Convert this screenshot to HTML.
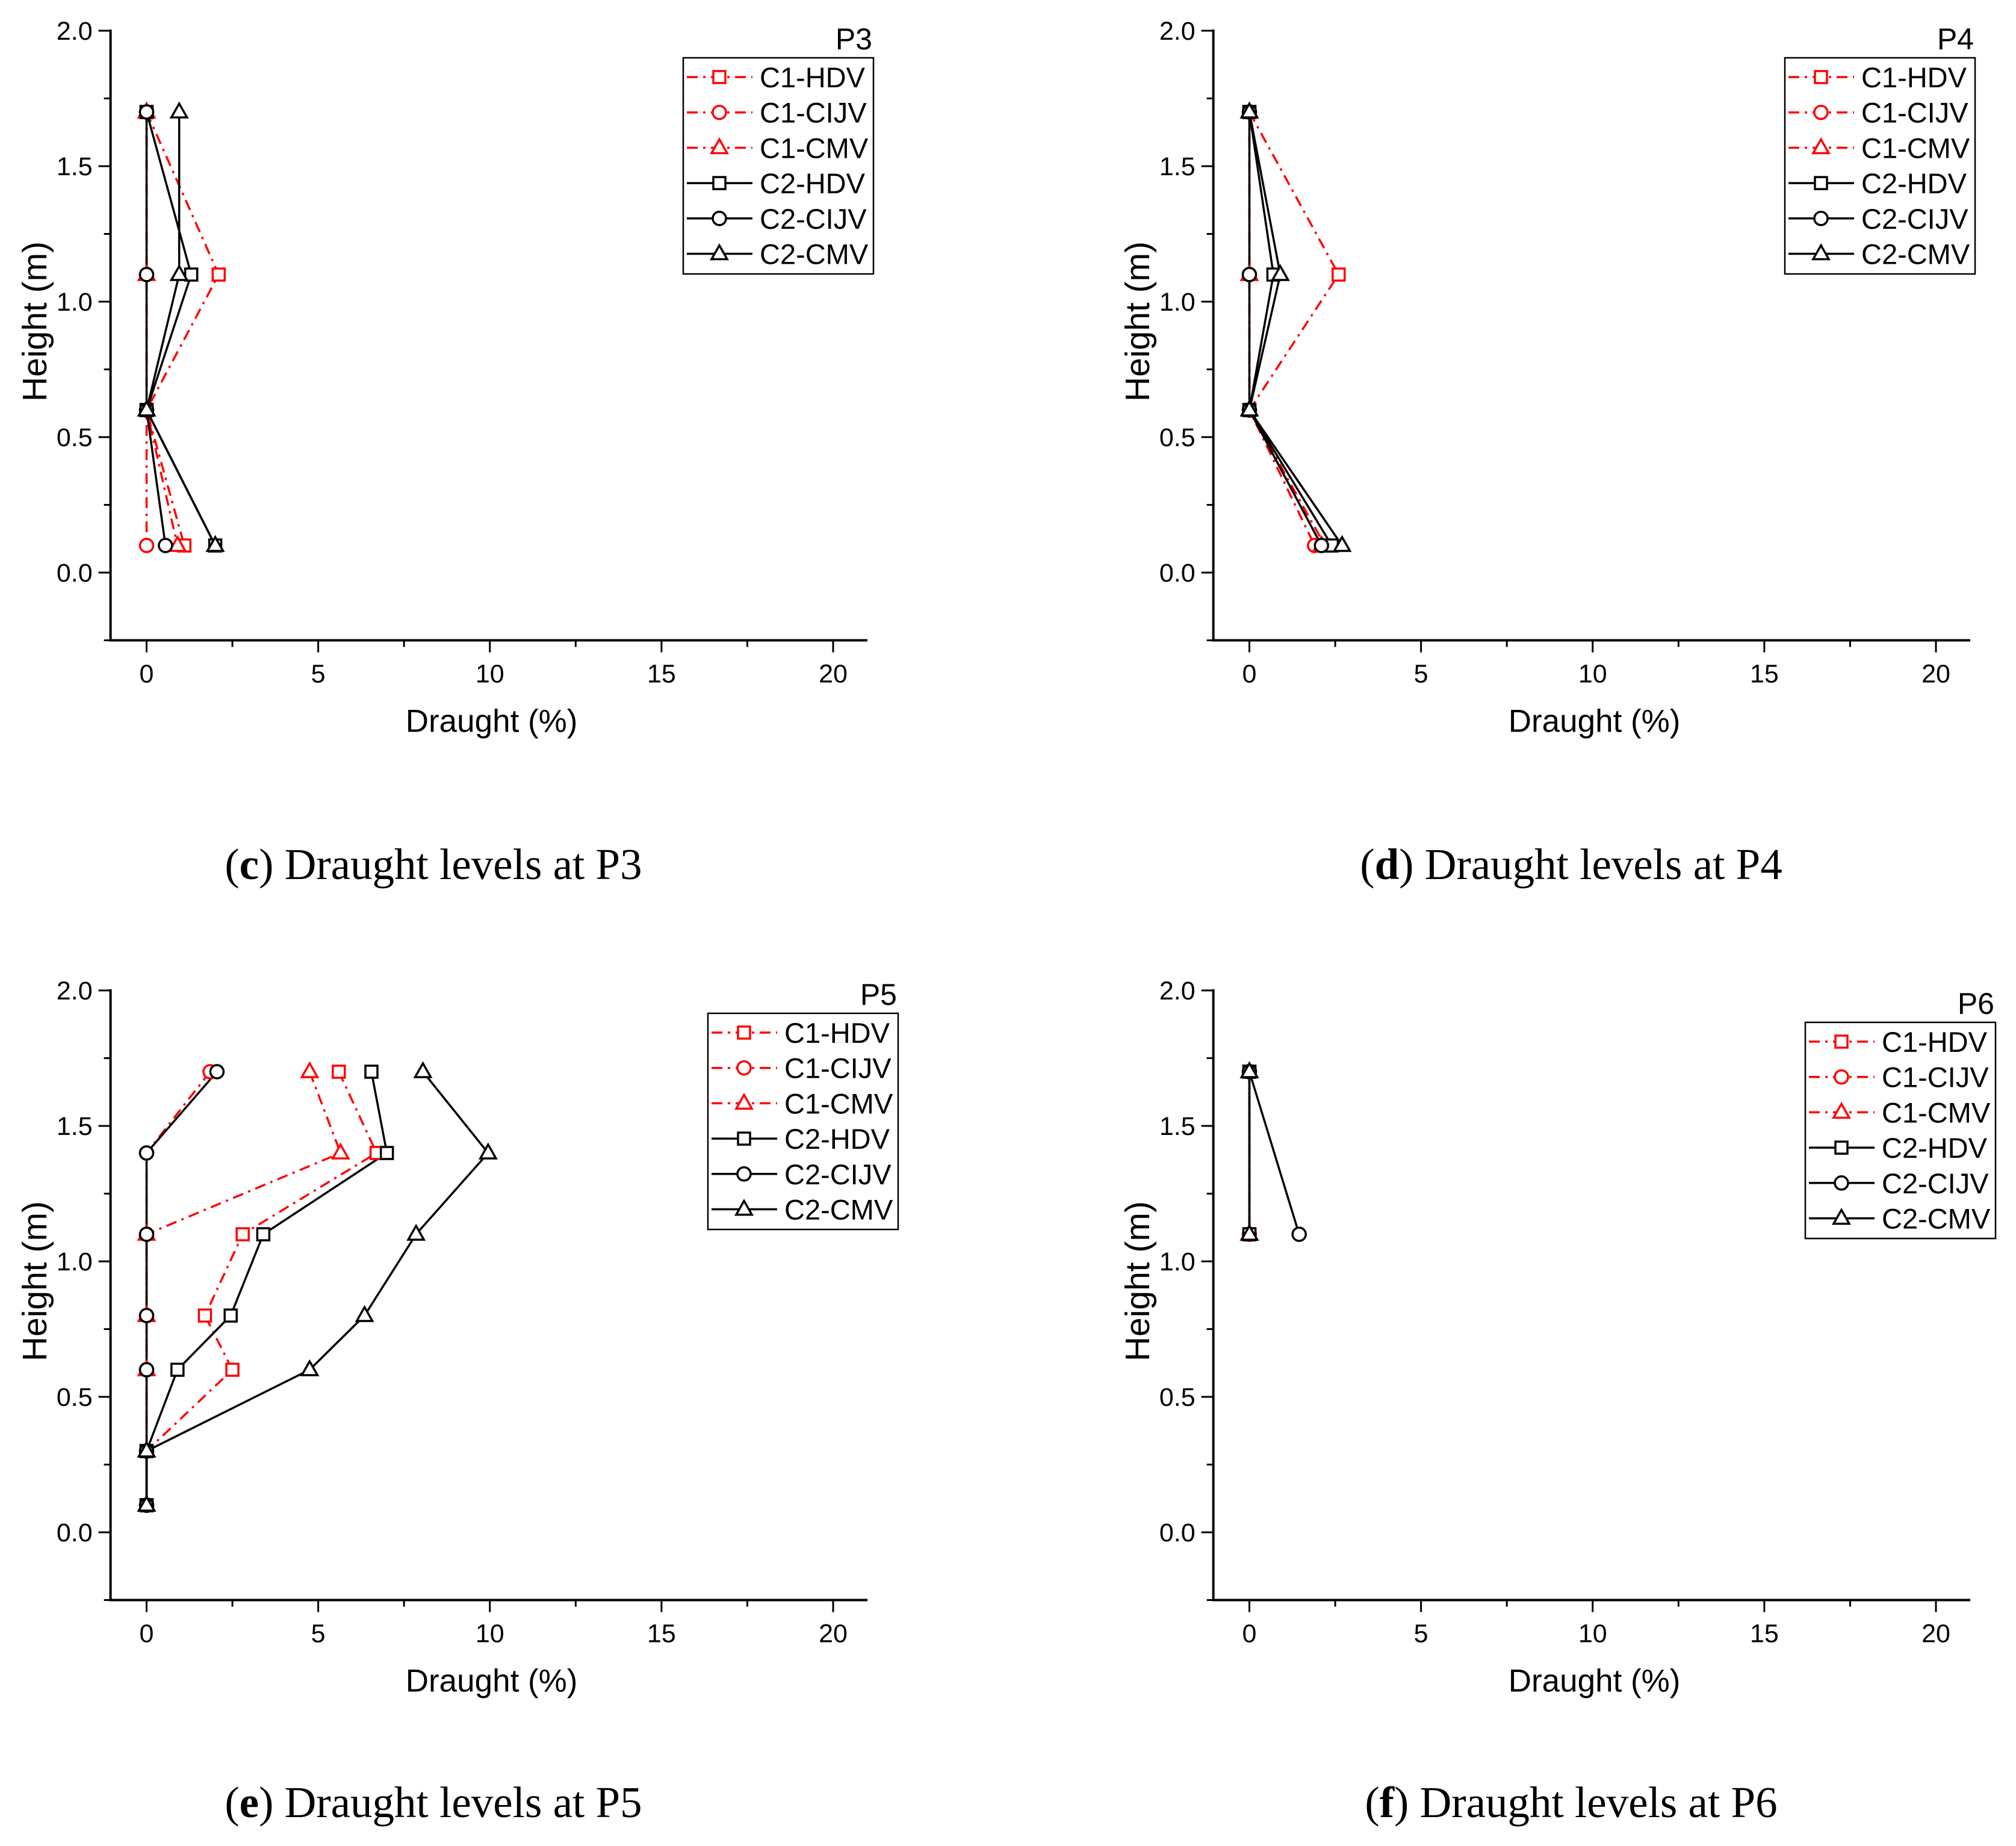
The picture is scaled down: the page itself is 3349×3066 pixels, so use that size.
<!DOCTYPE html>
<html><head><meta charset="utf-8">
<style>
html,body{margin:0;padding:0;background:#fff;}
svg{display:block;}
text{font-family:"Liberation Sans",sans-serif;}
.cap{font-family:"Liberation Serif",serif;}
</style></head>
<body>
<svg id="fig" width="3349" height="3066" viewBox="0 0 3349 3066" xmlns="http://www.w3.org/2000/svg"></svg>
<script>
// ---- data ----
const seriesNames = ["C1-HDV","C1-CIJV","C1-CMV","C2-HDV","C2-CIJV","C2-CMV"];
const xTicks = [0,5,10,15,20];
const yTickLabels = ["0.0","0.5","1.0","1.5","2.0"];
const yTicks = [0,0.5,1.0,1.5,2.0];

const p3Heights = [1.7,1.1,0.6,0.1];
const p3C1HDV  = [0,2.1,0,1.1];
const p3C1CIJV = [0,0,0,0];
const p3C1CMV  = [0,0,0,0.9];
const p3C2HDV  = [0,1.3,0,2.0];
const p3C2CIJV = [0,0,0,0.55];
const p3C2CMV  = [0.95,0.95,0,2.0];

const p4Heights = [1.7,1.1,0.6,0.1];
const p4C1HDV  = [0,2.6,0,2.2];
const p4C1CIJV = [0,0,0,1.9];
const p4C1CMV  = [0,0,0,2.1];
const p4C2HDV  = [0,0.7,0,2.4];
const p4C2CIJV = [0,0,0,2.1];
const p4C2CMV  = [0,0.9,0,2.7];

const p5Heights = [1.7,1.4,1.1,0.8,0.6,0.3,0.1];
const p5C1HDV  = [5.6,6.7,2.8,1.7,2.5,0,0];
const p5C1CIJV = [1.85,0,0,0,0,0,0];
const p5C1CMV  = [4.75,5.65,0,0,0,0,0];
const p5C2HDV  = [6.55,7.0,3.4,2.45,0.9,0,0];
const p5C2CIJV = [2.05,0,0,0,0,0,0];
const p5C2CMV  = [8.05,9.95,7.85,6.35,4.75,0,0];

const p6Heights = [1.7,1.1];
const p6C1HDV  = [0,0];
const p6C1CIJV = [0,0];
const p6C1CMV  = [0,0];
const p6C2HDV  = [0,0];
const p6C2CIJV = [0,1.45];
const p6C2CMV  = [0,0];

const NS="http://www.w3.org/2000/svg";
const svg=document.getElementById('fig');
function mk(tag,attrs,parent){const e=document.createElementNS(NS,tag);for(const k in attrs)e.setAttribute(k,attrs[k]);(parent||svg).appendChild(e);return e;}

const panels=[
 {id:'p3',label:'P3',letter:'c',ox:0,oy:0,h:p3Heights,s:[p3C1HDV,p3C1CIJV,p3C1CMV,p3C2HDV,p3C2CIJV,p3C2CMV],leg:[1135,96],cy:1460},
 {id:'p4',label:'P4',letter:'d',ox:1832,oy:0,h:p4Heights,s:[p4C1HDV,p4C1CIJV,p4C1CMV,p4C2HDV,p4C2CIJV,p4C2CMV],leg:[2965,96],cy:1460},
 {id:'p5',label:'P5',letter:'e',ox:0,oy:1594,h:p5Heights,s:[p5C1HDV,p5C1CIJV,p5C1CMV,p5C2HDV,p5C2CIJV,p5C2CMV],leg:[1176,1683],cy:3018},
 {id:'p6',label:'P6',letter:'f',ox:1832,oy:1594,h:p6Heights,s:[p6C1HDV,p6C1CIJV,p6C1CMV,p6C2HDV,p6C2CIJV,p6C2CMV],leg:[2999,1698],cy:3018}
];
const shapes=['sq','ci','tr','sq','ci','tr'];

function marker(g,shape,x,y,col,name){
  let e;
  if(shape==='sq') e=mk('rect',{x:x-10,y:y-10,width:20,height:20,fill:'#fff',stroke:col,'stroke-width':3.5},g);
  else if(shape==='ci') e=mk('circle',{cx:x,cy:y,r:11,fill:'#fff',stroke:col,'stroke-width':3.5},g);
  else e=mk('polygon',{points:`${x},${y-14} ${x+13},${y+9} ${x-13},${y+9}`,fill:'#fff',stroke:col,'stroke-width':3.5},g);
  
  
}

panels.forEach(p=>{
  const g=mk('g',{});
  
  
  const x0=243.5+p.ox, xs=(1384-243.5)/20;
  const y0=951+p.oy, ys=(951-51)/2;
  const X=v=>x0+v*xs, Y=v=>y0-v*ys;
  const axL=X(-1.05), axR=X(21), axB=Y(-0.25), axT=Y(2.0);
  const ya=mk('line',{x1:axL,y1:axT-2,x2:axL,y2:axB+2,stroke:'#000','stroke-width':4},g);
  
  const xa=mk('line',{x1:axL-2,y1:axB,x2:axR,y2:axB,stroke:'#000','stroke-width':4},g);
  
  xTicks.forEach(t=>{
    mk('line',{x1:X(t),y1:axB,x2:X(t),y2:axB+20,stroke:'#000','stroke-width':3},g);
    if(t<20) mk('line',{x1:X(t+2.5),y1:axB,x2:X(t+2.5),y2:axB+11,stroke:'#000','stroke-width':3},g);
    const tl=mk('text',{x:X(t),y:axB+70,'font-size':43,'text-anchor':'middle'},g);tl.textContent=t;
    
  });
  yTicks.forEach((t,i)=>{
    mk('line',{x1:axL,y1:Y(t),x2:axL-20,y2:Y(t),stroke:'#000','stroke-width':3},g);
    mk('line',{x1:axL,y1:Y(t-0.25),x2:axL-11,y2:Y(t-0.25),stroke:'#000','stroke-width':3},g);
    const tl=mk('text',{x:axL-30,y:Y(t)+15,'font-size':43,'text-anchor':'end'},g);tl.textContent=yTickLabels[i];
    
  });
  const xt=mk('text',{x:X(10.05),y:axB+152,'font-size':53,'text-anchor':'middle'},g);xt.textContent='Draught (%)';
  
  const ytx=57+p.ox, yty=Y(1.0)+33;
  const yt=mk('text',{x:ytx,y:yty,'font-size':57,'text-anchor':'middle',transform:`rotate(-90 ${ytx} ${yty}) translate(0 20)`},g);yt.textContent='Height (m)';
  
  p.s.forEach((vals,si)=>{
    const red=si<3, col=red?'#f00':'#000';
    const pts=vals.map((v,i)=>X(v)+','+Y(p.h[i])).join(' ');
    const l=mk('polyline',{points:pts,fill:'none',stroke:col,'stroke-width':3.5,'stroke-dasharray':red?'18,9,4,9':'none'},g);
    
    
  });
  p.s.forEach((vals,si)=>{
    const col=si<3?'#f00':'#000';
    vals.forEach((v,i)=>marker(g,shapes[si],X(v),Y(p.h[i]),col,'point-'+seriesNames[si].toLowerCase()));
  });
  const [lx,ly]=p.leg;
  const lt=mk('text',{x:lx+314,y:ly-14,'font-size':50,'text-anchor':'end'},g);lt.textContent=p.label;
  
  const lb=mk('rect',{x:lx,y:ly,width:316,height:359,fill:'#fff',stroke:'#000','stroke-width':2.5},g);
  
  seriesNames.forEach((n,si)=>{
    const red=si<3,col=red?'#f00':'#000';
    const ry=ly+32+si*58.7;
    const ll=mk('line',{x1:lx+6,y1:ry,x2:lx+115,y2:ry,stroke:col,'stroke-width':3.5,'stroke-dasharray':red?'18,9,4,9':'none'},g);
    
    marker(g,shapes[si],lx+60,ry,col,'legend-marker');
    const te=mk('text',{x:lx+127,y:ry+17,'font-size':47},g);te.textContent=n;
    
  });
  const cx=720+p.ox*(1890/1832);
  const c=mk('text',{x:cx,y:p.cy,'font-size':73,'text-anchor':'middle',class:'cap'},g);
  
  const t1=mk('tspan',{},c);t1.textContent='(';
  const t2=mk('tspan',{'font-weight':'bold'},c);t2.textContent=p.letter;
  const t3=mk('tspan',{},c);t3.textContent=') Draught levels at '+p.label;
});
</script>
</body></html>
